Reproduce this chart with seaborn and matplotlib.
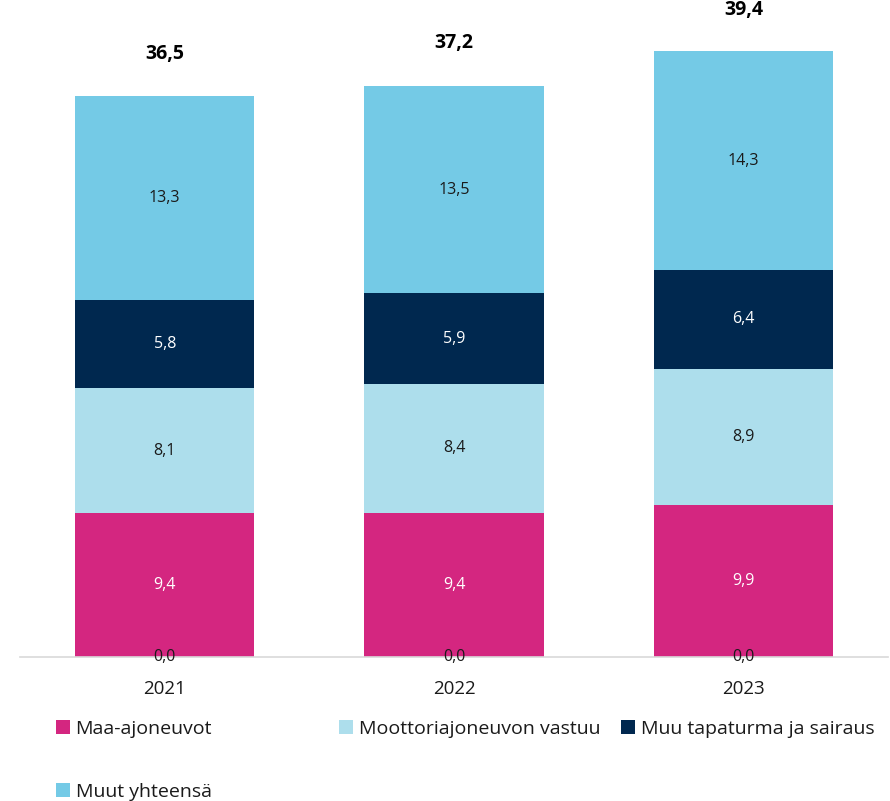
import matplotlib
matplotlib.use("Agg")
import matplotlib.pyplot as plt
import seaborn as sns
import pandas as pd

years = ["2021", "2022", "2023"]
maa_ajoneuvot = [9.4, 9.4, 9.9]
moottori_vastuu = [8.1, 8.4, 8.9]
muu_tapaturma = [5.8, 5.9, 6.4]
muut_yhteensa = [13.3, 13.5, 14.3]
zero_series = [0.0, 0.0, 0.0]
totals = [36.5, 37.2, 39.4]

series_names = ["Maa-ajoneuvot", "Moottoriajoneuvon vastuu",
                "Muu tapaturma ja sairaus", "Muut yhteensä"]
series_values = [maa_ajoneuvot, moottori_vastuu, muu_tapaturma, muut_yhteensa]
colors = ["#D42680", "#ADDEEC", "#00284F", "#74CAE6"]
text_colors = ["white", "#1a1a1a", "white", "#1a1a1a"]

sns.set_theme(style="white")
plt.rcParams["font.family"] = ["Open Sans", "DejaVu Sans"]

fig = plt.figure(figsize=(8.9, 8.01), dpi=100)
ax = fig.add_axes([0.0225, 0.18, 0.9755, 0.804])

bottoms = [0.0, 0.0, 0.0]
for name, vals, col, tcol in zip(series_names, series_values, colors, text_colors):
    df = pd.DataFrame({"year": years, "value": vals})
    sns.barplot(data=df, x="year", y="value", color=col, width=0.62,
                bottom=bottoms, label=name, ax=ax, errorbar=None,
                saturation=1, edgecolor="none", linewidth=0)
    for i, v in enumerate(vals):
        ax.text(i, bottoms[i] + v / 2, f"{v:.1f}".replace(".", ","),
                ha="center", va="center", fontsize=11.5, color=tcol)
    bottoms = [b + v for b, v in zip(bottoms, vals)]

# zero-value series labels at the base
for i, v in enumerate(zero_series):
    ax.text(i, v, f"{v:.1f}".replace(".", ","), ha="center", va="center",
            fontsize=11.5, color="#1a1a1a")

for i, t in enumerate(totals):
    ax.text(i, t + 2.8, f"{t:.1f}".replace(".", ","), ha="center",
            va="center", fontsize=14, fontweight="bold", color="black")

ax.set_xlim(-0.5, 2.5)
ax.set_ylim(0, 42)
ax.set_xlabel("")
ax.set_ylabel("")
ax.set_yticks([])
ax.tick_params(axis="x", length=0, pad=17, labelsize=13.5, labelcolor="#1a1a1a")
for s in ["top", "right", "left"]:
    ax.spines[s].set_visible(False)
ax.spines["bottom"].set_color("#D9D9D9")
ax.spines["bottom"].set_linewidth(1.2)

handles, labels = ax.get_legend_handles_labels()
if ax.get_legend() is not None:
    ax.get_legend().remove()

leg_kw = dict(frameon=False, fontsize=14, handlelength=0.7, handleheight=0.7,
              handletextpad=0.3, labelspacing=2.3, loc="upper left",
              borderaxespad=0, borderpad=0)
col_groups = [([0, 3], 0.063), ([1], 0.381), ([2], 0.698)]
for idx, xpos in col_groups:
    lg = fig.legend([handles[k] for k in idx], [labels[k] for k in idx],
                    bbox_to_anchor=(xpos, 0.101), **leg_kw)
    for t in lg.get_texts():
        t.set_color("#1a1a1a")

fig.savefig("out.png", dpi=100)
